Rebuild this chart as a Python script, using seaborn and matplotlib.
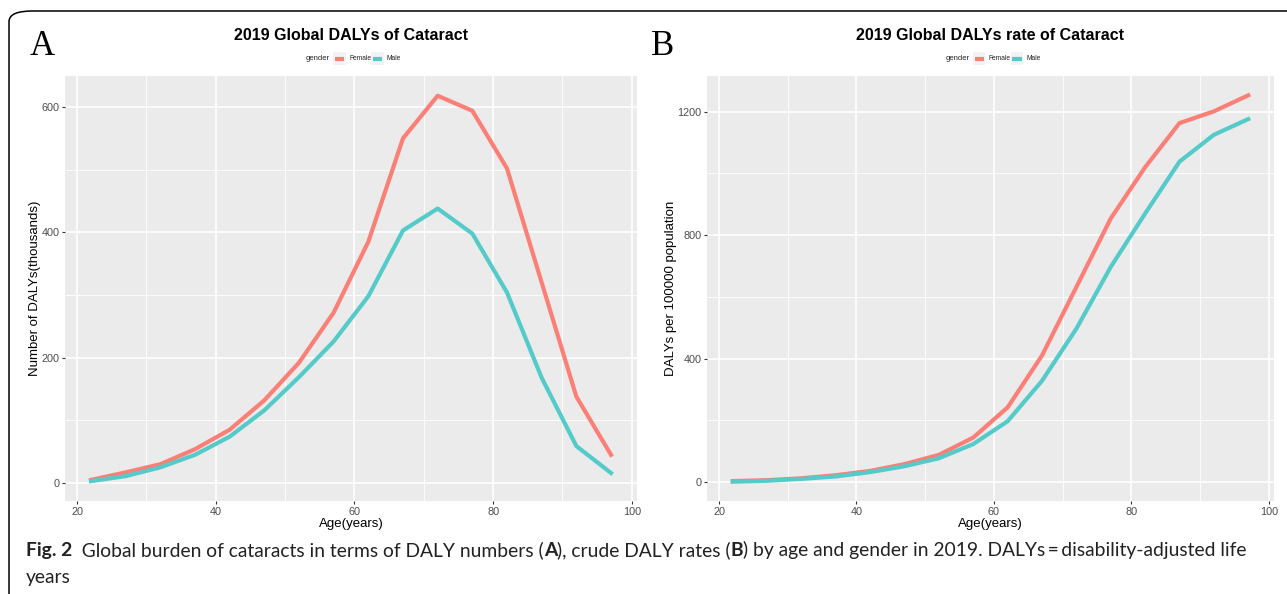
import matplotlib
matplotlib.use("Agg")
import matplotlib.pyplot as plt
import seaborn as sns
import pandas as pd
import numpy as np
from matplotlib.patches import FancyBboxPatch, Rectangle
from matplotlib.lines import Line2D

# ---------------- data ----------------
ages = [22, 27, 32, 37, 42, 47, 52, 57, 62, 67, 72, 77, 82, 87, 92, 97]
dalys_female = [5, 17, 30, 54, 85, 132, 192, 272, 385, 550, 618, 594, 502, 320, 138, 45]
dalys_male = [3, 11, 25, 45, 74, 116, 169, 226, 298, 403, 438, 398, 304, 168, 59, 16]
rate_female = [3, 6, 12, 22, 36, 58, 88, 144, 242, 410, 632, 854, 1020, 1163, 1201, 1253]
rate_male = [1, 4, 10, 18, 32, 51, 77, 123, 197, 328, 497, 697, 870, 1038, 1125, 1176]
genders = ["Female", "Male"]
palette = {"Female": "#FA7F77", "Male": "#55CBC9"}

dfA = pd.DataFrame({"age": ages * 2, "value": dalys_female + dalys_male,
                    "gender": ["Female"] * len(ages) + ["Male"] * len(ages)})
dfB = pd.DataFrame({"age": ages * 2, "value": rate_female + rate_male,
                    "gender": ["Female"] * len(ages) + ["Male"] * len(ages)})

W, H = 1287, 594
fig = plt.figure(figsize=(W / 100, H / 100), dpi=100)
fig.patch.set_facecolor("white")


def fx(x):
    return x / W


def fy(y):
    return 1 - y / H


# outer frame (rounded, continuing past right edge)
frame = FancyBboxPatch((fx(9), fy(605)), fx(1320) - fx(9), fy(11) - fy(605),
                       boxstyle="round,pad=0,rounding_size=0.018",
                       transform=fig.transFigure, fill=False, edgecolor="black",
                       linewidth=1.1, clip_on=False)
fig.patches.append(frame)

sans = ["Liberation Sans", "DejaVu Sans"]


def style_panel(ax, yticks, yminor):
    ax.set_facecolor("#EBEBEB")
    for s in ax.spines.values():
        s.set_visible(False)
    ax.set_xlim(18.25, 100.75)
    ax.set_xticks([20, 40, 60, 80, 100])
    ax.set_xticks([30, 50, 70, 90], minor=True)
    ax.set_yticks(yticks)
    ax.set_yticks(yminor, minor=True)
    ax.grid(which="major", color="white", linewidth=1.2)
    ax.grid(which="minor", color="white", linewidth=0.6)
    ax.set_axisbelow(True)
    ax.tick_params(which="major", length=2.5, width=0.8, color="#333333",
                   labelsize=7.8, labelcolor="#4D4D4D", pad=1.5)
    ax.tick_params(which="minor", length=0)
    for lab in ax.get_xticklabels() + ax.get_yticklabels():
        lab.set_family(sans)


def draw_legend(cx):
    # ggplot-like horizontal legend centered at cx (pixels)
    y = 58.5
    fig.text(fx(cx - 45), fy(y), "gender", fontsize=5.5, family=sans,
             ha="left", va="center", color="#222222")
    offs = [(-18, "Female"), (20, "Male")]
    for (dx, name) in offs:
        x0 = cx + dx
        fig.patches.append(Rectangle((fx(x0), fy(y + 6.5)), fx(13) - fx(0), fy(0) - fy(13),
                                     transform=fig.transFigure, facecolor="#F2F2F2",
                                     edgecolor="none"))
        fig.lines.append(Line2D([fx(x0 + 2), fx(x0 + 11)], [fy(y), fy(y)],
                                transform=fig.transFigure, color=palette[name],
                                linewidth=3.0, solid_capstyle="butt"))
        fig.text(fx(x0 + 16), fy(y), name, fontsize=4.8, family=sans,
                 ha="left", va="center", color="#222222")


panels = [
    dict(df=dfA, rect=(65, 76, 637, 501), ylim=(-28.7, 649.5), yt=[0, 200, 400, 600],
         ym=[100, 300, 500], title="2019 Global DALYs of Cataract",
         ylabel="Number of DALYs(thousands)", letter="A", lx=30, ylx=41),
    dict(df=dfB, rect=(707, 76, 1274, 501), ylim=(-61.6, 1315.6), yt=[0, 400, 800, 1200],
         ym=[200, 600, 1000], title="2019 Global DALYs rate of Cataract",
         ylabel="DALYs per 100000 population", letter="B", lx=651, ylx=677),
]

for p in panels:
    l, t, r, b = p["rect"]
    ax = fig.add_axes([fx(l), fy(b), fx(r) - fx(l), fy(t) - fy(b)])
    sns.lineplot(data=p["df"], x="age", y="value", hue="gender", hue_order=genders,
                 palette=palette, linewidth=3.0, ax=ax, legend=False, errorbar=None)
    ax.set_ylim(*p["ylim"])
    style_panel(ax, p["yt"], p["ym"])
    ax.set_xlabel("Age(years)", fontsize=9.5, family=sans, labelpad=1, color="black")
    ax.set_ylabel(p["ylabel"], fontsize=9.5, family=sans, color="black")
    ax.yaxis.set_label_coords((p["ylx"] - l) / (r - l), 0.5)
    cx = (l + r) / 2
    fig.text(fx(cx), fy(35), p["title"], fontsize=11.5, fontweight="bold", family=sans,
             ha="center", va="center")
    draw_legend(cx)
    fig.text(fx(p["lx"]), fy(55), p["letter"], fontsize=25, family=["Liberation Serif"],
             ha="left", va="baseline")

# ---------------- caption with mixed weights ----------------
pieces1 = [("Fig. 2", "bold"),
           ("  Global burden of cataracts in terms of DALY numbers (", "normal"),
           ("A", "bold"), ("), crude DALY rates (", "normal"), ("B", "bold"),
           (") by age and gender in 2019. DALYs\u2009=\u2009disability-adjusted life", "normal")]
cap_family = ["Lato", "DejaVu Sans"]
renderer = fig.canvas.get_renderer()


def measure(size):
    tot = 0
    for s, w in pieces1:
        t = fig.text(0, 0, s, fontsize=size, fontweight=w, family=cap_family)
        tot += t.get_window_extent(renderer).width
        t.remove()
    return tot


base = 12.0
size = base * 1221 / measure(base)
x = 26
for s, w in pieces1:
    t = fig.text(fx(x), fy(556), s, fontsize=size, fontweight=w, family=cap_family,
                 ha="left", va="baseline", color="#222222")
    x += t.get_window_extent(renderer).width
fig.text(fx(26), fy(583), "years", fontsize=size, family=cap_family,
         ha="left", va="baseline", color="#222222")

fig.savefig("out.png", dpi=100, facecolor="white")
